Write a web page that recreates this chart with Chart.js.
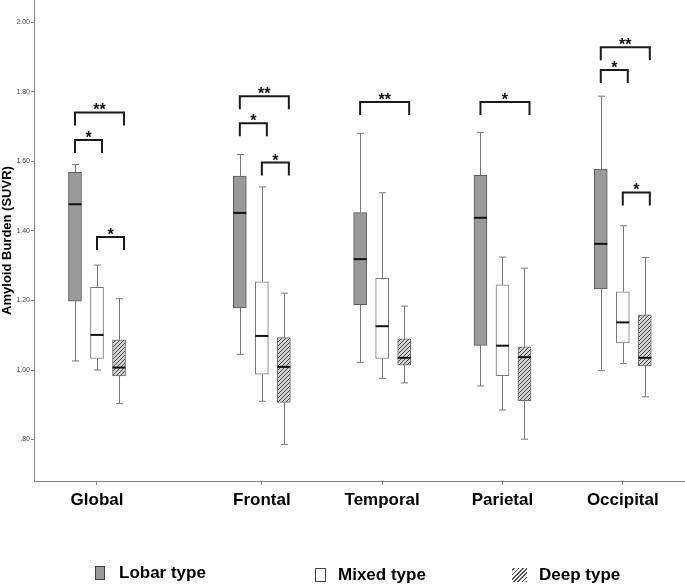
<!DOCTYPE html>
<html><head><meta charset="utf-8">
<script src="https://cdn.jsdelivr.net/npm/chart.js@4.4.0/dist/chart.umd.min.js"></script>
<style>
html,body{margin:0;padding:0;background:#fff;}
#wrap{position:relative;width:685px;height:585px;overflow:hidden;}
canvas{display:block;}
.lgt{position:absolute;font:bold 17px "Liberation Sans",Arial,sans-serif;color:#000;line-height:20px;white-space:nowrap;}
.sw{position:absolute;box-sizing:border-box;}
</style></head>
<body><div id="wrap"><canvas id="c" width="685" height="585"></canvas></div>
<script>
// ---- data ----
const regions = ['Global', 'Frontal', 'Temporal', 'Parietal', 'Occipital'];
const seriesNames = ['Lobar type', 'Mixed type', 'Deep type'];
// each entry: [min, Q1, median, Q3, max]  (SUVR)
const lobarStats = [[1.026, 1.198, 1.477, 1.569, 1.591], [1.045, 1.179, 1.452, 1.558, 1.620], [1.022, 1.188, 1.319, 1.453, 1.681], [0.954, 1.071, 1.438, 1.560, 1.683], [0.998, 1.233, 1.363, 1.578, 1.788]];
const mixedStats = [[1.000, 1.033, 1.101, 1.238, 1.302], [0.910, 0.988, 1.098, 1.254, 1.527], [0.976, 1.033, 1.126, 1.264, 1.510], [0.885, 0.984, 1.070, 1.245, 1.325], [1.019, 1.078, 1.137, 1.225, 1.415]];
const deepStats = [[0.904, 0.983, 1.007, 1.087, 1.205], [0.786, 0.907, 1.009, 1.093, 1.221], [0.963, 1.014, 1.035, 1.090, 1.184], [0.801, 0.912, 1.037, 1.067, 1.293], [0.923, 1.012, 1.035, 1.159, 1.324]];
const yTicks = [0.8, 1.0, 1.2, 1.4, 1.6, 1.8, 2.0];
const yTickLabels = ['.80', '1.00', '1.20', '1.40', '1.60', '1.80', '2.00'];
// significance brackets: [region index, from series, to series, bracket level (SUVR), label]
const significance = [
  [0, 0, 2, 1.741, '**'], [0, 0, 1, 1.662, '*'], [0, 1, 2, 1.383, '*'],
  [1, 0, 2, 1.788, '**'], [1, 0, 1, 1.710, '*'], [1, 1, 2, 1.597, '*'],
  [2, 0, 2, 1.771, '**'],
  [3, 0, 2, 1.771, '*'],
  [4, 0, 2, 1.929, '**'], [4, 0, 1, 1.863, '*'], [4, 1, 2, 1.511, '*']
];

// ---- layout / style ----
const regionPos = [0, 1.37, 2.37, 3.37, 4.37];
const seriesOffset = [-0.183, 0, 0.183];
const allStats = [lobarStats, mixedStats, deepStats];
const FONT = '"Liberation Sans", Arial, sans-serif';

const canvas = document.getElementById('c');
const ctx0 = canvas.getContext('2d');
function makeHatch(bg) {
  const c = document.createElement('canvas');
  c.width = 4; c.height = 4;
  const g = c.getContext('2d');
  if (bg) { g.fillStyle = bg; g.fillRect(0, 0, 4, 4); }
  g.strokeStyle = '#4a4a4a'; g.lineWidth = 1;
  g.beginPath();
  g.moveTo(0, 4); g.lineTo(4, 0);
  g.moveTo(-1, 1); g.lineTo(1, -1);
  g.moveTo(3, 5); g.lineTo(5, 3);
  g.stroke();
  return ctx0.createPattern(c, 'repeat');
}
const hatch = makeHatch('#d2d2d2');
const fills = ['#9a9a9a', '#ffffff', hatch];
const borders = ['#5a5a5a', '#777777', '#6a6a6a'];

const datasets = allStats.map((stats, s) => ({
  label: seriesNames[s],
  data: stats.map((st, i) => ({ x: regionPos[i] + seriesOffset[s], y: [st[1], st[3]] })),
  backgroundColor: fills[s],
  borderColor: borders[s],
  borderWidth: 1,
  borderSkipped: false,
  barThickness: 13,
  grouped: false
}));

const boxExtras = {
  id: 'boxExtras',
  afterDatasetsDraw(chart) {
    const ctx = chart.ctx, ys = chart.scales.y;
    allStats.forEach((stats, s) => {
      const meta = chart.getDatasetMeta(s);
      meta.data.forEach((bar, i) => {
        const st = stats[i];
        const cx = Math.round(bar.x) + 0.5;
        const hw = bar.width / 2;
        const p = st.map(v => ys.getPixelForValue(v));
        ctx.save();
        ctx.strokeStyle = '#777'; ctx.lineWidth = 1;
        ctx.beginPath();
        ctx.moveTo(cx, p[3]); ctx.lineTo(cx, p[4]);
        ctx.moveTo(cx - 3.5, p[4]); ctx.lineTo(cx + 3.5, p[4]);
        ctx.moveTo(cx, p[1]); ctx.lineTo(cx, p[0]);
        ctx.moveTo(cx - 3.5, p[0]); ctx.lineTo(cx + 3.5, p[0]);
        ctx.stroke();
        ctx.strokeStyle = '#111'; ctx.lineWidth = 2;
        ctx.beginPath();
        ctx.moveTo(bar.x - hw, p[2]); ctx.lineTo(bar.x + hw, p[2]);
        ctx.stroke();
        ctx.restore();
      });
    });
    // significance brackets
    significance.forEach(([r, a, b, level, label]) => {
      const x1 = chart.getDatasetMeta(a).data[r].x;
      const x2 = chart.getDatasetMeta(b).data[r].x + 5;
      const yTop = ys.getPixelForValue(level);
      ctx.save();
      ctx.strokeStyle = '#1a1a1a'; ctx.lineWidth = 2;
      ctx.beginPath();
      ctx.moveTo(x1, yTop + 13); ctx.lineTo(x1, yTop); ctx.lineTo(x2, yTop); ctx.lineTo(x2, yTop + 13);
      ctx.stroke();
      ctx.fillStyle = '#111';
      ctx.font = 'bold 16px ' + FONT;
      ctx.textAlign = 'center'; ctx.textBaseline = 'alphabetic';
      ctx.fillText(label, (x1 + x2) / 2, yTop + 3);
      ctx.restore();
    });
  }
};

new Chart(canvas, {
  type: 'bar',
  data: { datasets },
  options: {
    responsive: false,
    animation: false,
    layout: { padding: 0 },
    plugins: { legend: { display: false }, tooltip: { enabled: false } },
    scales: {
      x: {
        type: 'linear',
        offset: false,
        min: -0.5236, max: 4.887,
        afterBuildTicks: s => { s.ticks = regionPos.map(v => ({ value: v })); },
        afterFit: s => { s.height = 104; s.paddingLeft = 0; s.paddingRight = 0; },
        ticks: {
          callback: (v, i) => regions[i],
          font: { family: FONT, weight: 'bold', size: 17 },
          color: '#000', padding: 5, maxRotation: 0, autoSkip: false
        },
        grid: { offset: false, drawOnChartArea: false, drawTicks: true, tickLength: 4, color: '#888' },
        border: { display: true, color: '#888', width: 1 }
      },
      y: {
        type: 'linear',
        min: 0.6806, max: 2.0647,
        afterBuildTicks: s => { s.ticks = yTicks.map(v => ({ value: v })); },
        afterFit: s => { s.width = 34; s.paddingTop = 0; s.paddingBottom = 0; },
        ticks: {
          callback: (v, i) => yTickLabels[i],
          font: { family: FONT, size: 7 },
          color: '#444', padding: 1
        },
        grid: { drawOnChartArea: false, drawTicks: true, tickLength: 3, color: '#888' },
        border: { display: true, color: '#888', width: 1 },
        title: {
          display: true, text: 'Amyloid Burden (SUVR)',
          font: { family: FONT, weight: 'bold', size: 13 },
          color: '#000', padding: { top: 0, bottom: 0 }
        }
      }
    }
  },
  plugins: [boxExtras]
});

// ---- legend (HTML) ----
const legendPos = [[95, 119, 10, 563], [315, 338, 11, 565], [512, 539, 15, 565]];
const wrap = document.getElementById('wrap');
seriesNames.forEach((name, s) => {
  const [sx, tx, sw, ty] = legendPos[s];
  const box = document.createElement('div');
  box.className = 'sw';
  box.style.left = sx + 'px'; box.style.top = (ty + 3) + 'px';
  box.style.width = sw + 'px'; box.style.height = '14px';
  if (s === 0) { box.style.background = '#9a9a9a'; box.style.border = '1px solid #444'; }
  else if (s === 1) { box.style.background = '#fff'; box.style.border = '1px solid #444'; }
  else { box.style.background = 'repeating-linear-gradient(-45deg, #555 0 1.2px, #fff 1.2px 3px)'; }
  wrap.appendChild(box);
  const t = document.createElement('div');
  t.className = 'lgt';
  t.style.left = tx + 'px'; t.style.top = ty + 'px';
  t.textContent = name;
  wrap.appendChild(t);
});
</script>
</body></html>
